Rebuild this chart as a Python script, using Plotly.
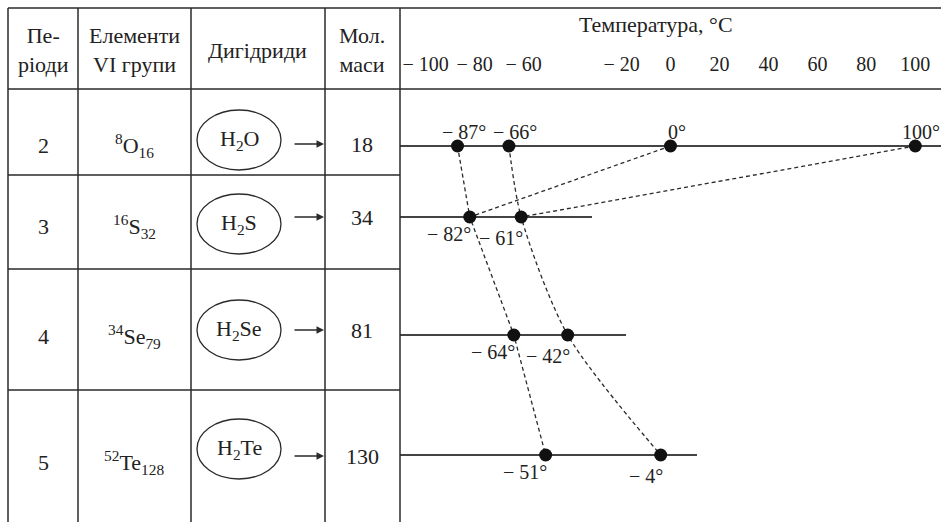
import plotly.graph_objects as go

# дані таблиці
periods = [2, 3, 4, 5]
elements = ["<sup>8</sup>O<sub>16</sub>", "<sup>16</sup>S<sub>32</sub>",
            "<sup>34</sup>Se<sub>79</sub>", "<sup>52</sup>Te<sub>128</sub>"]
hydrides = ["H<sub>2</sub>O", "H<sub>2</sub>S", "H<sub>2</sub>Se", "H<sub>2</sub>Te"]
mol_mass = [18, 34, 81, 130]

# температури, °C
melt_trend = [-87, -82, -64, -51]
boil_trend = [-66, -61, -42, -4]
water_real = [0, 100]
tick_vals = [-100, -80, -60, -20, 0, 20, 40, 60, 80, 100]

# розмітка (пікселі сторінки)
W, H = 941, 522
COL_X = [8, 78, 191, 325, 400]
ROW_LINES = [175, 269, 390]
HEAD_Y = [8, 89]
ROW_Y = [146, 217, 335, 455]          # лінії температур
TEXT_Y = [145, 226, 336, 462]
ELL_Y = [140, 224, 330, 449]
ARROW_Y = [144, 217, 330, 456]
LINE_END = [941, 592, 626, 697]

FONT = "Times New Roman, Liberation Serif, Times, serif"
FS = 22
INK = "#2a2a2a"


def px(x):
    return x / W


def deg(v):
    return f"− {abs(v)}°" if v < 0 else f"{v}°"


fig = go.Figure()

dash = dict(color=INK, width=1.3, dash="4px,3px")
fig.add_trace(go.Scatter(x=melt_trend, y=ROW_Y, mode="lines", line=dash))
fig.add_trace(go.Scatter(x=boil_trend, y=ROW_Y, mode="lines",
                         line=dict(dash, shape="spline", smoothing=0.8)))
fig.add_trace(go.Scatter(x=[water_real[0], melt_trend[1]], y=ROW_Y[:2], mode="lines", line=dash))
fig.add_trace(go.Scatter(x=[water_real[1], boil_trend[1]], y=ROW_Y[:2], mode="lines", line=dash))

pts_x = melt_trend + boil_trend + water_real
pts_y = ROW_Y + ROW_Y + [ROW_Y[0], ROW_Y[0]]
fig.add_trace(go.Scatter(x=pts_x, y=pts_y, mode="markers",
                         marker=dict(size=13, color="#111")))

shapes = []
ln = dict(color=INK, width=1.5)
for x in COL_X:
    shapes.append(dict(type="line", xref="paper", yref="y", x0=px(x), x1=px(x), y0=HEAD_Y[0], y1=H, line=ln))
for y in HEAD_Y:
    shapes.append(dict(type="line", xref="paper", yref="y", x0=px(COL_X[0]), x1=1, y0=y, y1=y, line=ln))
for y in ROW_LINES:
    shapes.append(dict(type="line", xref="paper", yref="y", x0=px(COL_X[0]), x1=px(COL_X[-1]), y0=y, y1=y, line=ln))
for y, e in zip(ROW_Y, LINE_END):
    shapes.append(dict(type="line", xref="paper", yref="y", x0=px(COL_X[-1]), x1=px(e), y0=y, y1=y,
                       line=dict(color="#444", width=2), layer="below"))
for cy in ELL_Y:
    shapes.append(dict(type="circle", xref="paper", yref="y", x0=px(197), x1=px(281), y0=cy - 30, y1=cy + 30,
                       line=dict(color=INK, width=1.3)))

ann = []
tf = dict(family=FONT, size=FS, color="#222")
lf = dict(family=FONT, size=20, color="#222")


def txt(x, y, s, **kw):
    d = dict(xref="paper", yref="y", x=px(x), y=y, text=s, showarrow=False, font=tf,
             xanchor="center", yanchor="middle")
    d.update(kw)
    ann.append(d)


# заголовок таблиці
txt(43, 50, "Пе-<br>ріоди")
txt(134, 50, "Елементи<br>VI групи")
txt(257, 50, "Дигідриди")
txt(362, 50, "Мол.<br>маси")
txt(656, 24, "Температура, °C")

for i in range(4):
    txt(43, TEXT_Y[i], str(periods[i]))
    txt(134, TEXT_Y[i], elements[i])
    txt(239, ELL_Y[i], hydrides[i])
    txt(362, ARROW_Y[i], str(mol_mass[i]))
    ann.append(dict(xref="paper", yref="y", x=px(324), y=ARROW_Y[i], ax=-31, ay=0, text="",
                    showarrow=True, arrowhead=2, arrowsize=1, arrowwidth=1.5, arrowcolor=INK))

# підписи точок
for v in water_real + [melt_trend[0], boil_trend[0]]:
    ann.append(dict(x=v, y=ROW_Y[0], text=deg(v), showarrow=False, font=lf,
                    xanchor="center", yanchor="bottom", yshift=1, xshift=6))
for i in range(1, 4):
    for k, v in enumerate((melt_trend[i], boil_trend[i])):
        ann.append(dict(x=v, y=ROW_Y[i], text=deg(v), showarrow=False, font=lf,
                        xanchor="right", yanchor="top", xshift=3 + k, yshift=-4 - 4 * k))

fig.update_layout(
    width=W, height=H, margin=dict(l=0, r=0, t=0, b=0),
    paper_bgcolor="white", plot_bgcolor="white", showlegend=False,
    font=dict(family=FONT, size=FS, color="#222"),
    shapes=shapes, annotations=ann,
    xaxis=dict(domain=[px(400), 1], range=[-110.5, 110.5], showgrid=False, zeroline=False,
               showline=False, ticks="", tickvals=tick_vals,
               ticktext=[deg(v).rstrip("°") for v in tick_vals],
               anchor="free", position=1 - 50 / H, side="bottom",
               tickfont=dict(family=FONT, size=20, color="#222")),
    yaxis=dict(domain=[0, 1], range=[H, 0], visible=False),
)

fig.write_html("out.html", config={"displayModeBar": False},
               post_script="document.body.style.margin='0';")
